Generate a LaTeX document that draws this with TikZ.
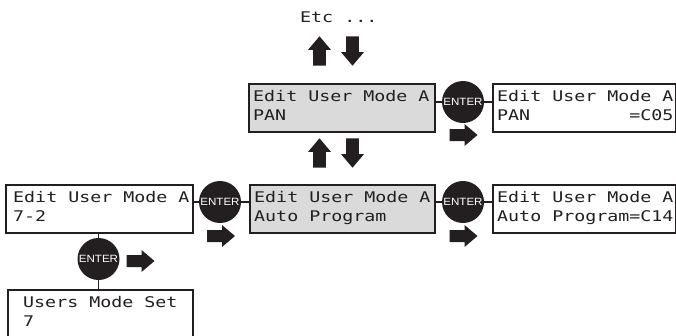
\documentclass[tikz,border=0pt]{standalone}
\usepackage{fontspec}
\newfontfamily\lcdfont[FakeStretch=1.245]{DejaVu Sans Mono}
\newfontfamily\btnfont[FakeStretch=1.1]{Liberation Sans}
\definecolor{ink}{HTML}{231F20}
\definecolor{lcdgray}{HTML}{DADADA}
\begin{document}
\begin{tikzpicture}[x=1pt,y=-1pt,
  lcdbox/.style={draw=ink, line width=1.6pt, fill=white, inner sep=0pt,
    anchor=north west, minimum height=48pt},
  graybox/.style={lcdbox, fill=lcdgray},
  lcdtext/.style={anchor=base west, inner sep=0pt, text=ink,
    font=\lcdfont\fontsize{14.7}{16}\selectfont},
  enterbtn/.style={circle, fill=ink, minimum size=42pt, inner sep=0pt,
    text=white, font=\btnfont\fontsize{10.5}{11}\selectfont},
  conn/.style={draw=ink, line width=1.3pt},
  blockarrow/.pic={\fill[ink] (-14,-6) -- (1,-6) -- (1,-11) -- (14,0)
    -- (1,11) -- (1,6) -- (-14,6) -- cycle;}]
\useasboundingbox (0,0) rectangle (676,335);

% boxes
\node[lcdbox, minimum width=187pt] (b1) at (5,184) {};
\node[graybox, minimum width=185pt] (b2) at (249,184) {};
\node[lcdbox, minimum width=183pt] (b3) at (492,184) {};
\node[graybox, minimum width=186pt] (b4) at (248,83) {};
\node[lcdbox, minimum width=183pt] (b5) at (492,83) {};
\node[lcdbox, minimum width=185pt, minimum height=60pt] (b6) at (7,289) {};

% texts
\node[lcdtext] (t1a) at (13,202.5) {Edit User Mode A};
\node[lcdtext] (t1b) at (13,221.5) {7-2};
\node[lcdtext] (t2a) at (254,202.5) {Edit User Mode A};
\node[lcdtext] (t2b) at (254,221.5) {Auto Program};
\node[lcdtext] (t3a) at (497,202.5) {Edit User Mode A};
\node[lcdtext] (t3b) at (497,221.5) {Auto Program=C14};
\node[lcdtext] (t4a) at (253,101.5) {Edit User Mode A};
\node[lcdtext] (t4b) at (253,120.5) {PAN};
\node[lcdtext] (t5a) at (497,101.5) {Edit User Mode A};
\node[lcdtext] (t5b) at (497,120.5) {PAN\phantom{XXXXXXXXX}=C05};
\node[lcdtext] (t6a) at (23,307) {Users Mode Set};
\node[lcdtext] (t6b) at (23,326.5) {7};
\node[lcdtext] (etc) at (300,22) {Etc ...};

% enter buttons
\node[enterbtn] (c1) at (220,202) {ENTER};
\node[enterbtn] (c2) at (463,202) {ENTER};
\node[enterbtn] (c3) at (463,102) {ENTER};
\node[enterbtn] (c4) at (98.5,259) {ENTER};

% connectors
\draw[conn] (b1.east |- c1.center) -- (c1.west);
\draw[conn] (c1.east) -- (c1.east -| b2.west);
\draw[conn] (b2.east |- c2.center) -- (c2.west);
\draw[conn] (c2.east) -- (c2.east -| b3.west);
\draw[conn] (b4.east |- c3.center) -- (c3.west);
\draw[conn] (c3.east) -- (c3.east -| b5.west);
\draw[conn] (c4.north) -- (c4.north |- b1.south);
\draw[conn] (c4.south) -- (c4.south |- b6.north);

% block arrows
\pic at (221,236) {blockarrow};
\pic at (463.5,236) {blockarrow};
\pic at (463.5,135) {blockarrow};
\pic at (140.5,261) {blockarrow};
\pic[rotate=90, scale=1.05] at (319.5,153) {blockarrow};
\pic[rotate=-90, scale=1.05] at (352.5,153) {blockarrow};
\pic[rotate=90, scale=1.05] at (319.5,51) {blockarrow};
\pic[rotate=-90, scale=1.05] at (352.5,51) {blockarrow};
\end{tikzpicture}
\end{document}
